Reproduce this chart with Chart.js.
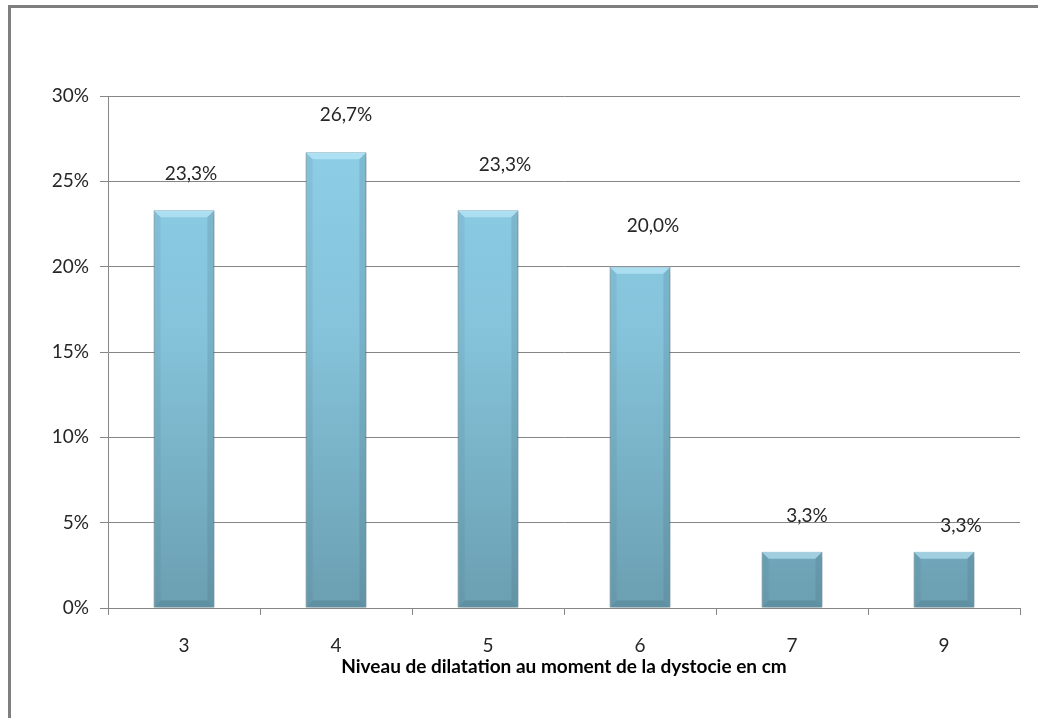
<!DOCTYPE html>
<html>
<head>
<meta charset="utf-8">
<script src="https://cdn.jsdelivr.net/npm/chart.js@4/dist/chart.umd.min.js"></script>
<style>
  html, body { margin: 0; padding: 0; background: #fff; }
  #wrap { position: relative; width: 1038px; height: 718px; overflow: hidden; }
  #frame { position: absolute; left: 8px; top: 5px; width: 1100px; height: 800px;
           border-top: 3px solid #7f7f7f; border-left: 3px solid #7f7f7f; }
  canvas { position: absolute; left: 0; top: 0; }
</style>
</head>
<body>
<div id="wrap">
  <div id="frame"></div>
  <canvas id="chart" width="1038" height="718"></canvas>
</div>
<script>
// catégories (dilatation en cm) et pourcentages
const categories = ['3', '4', '5', '6', '7', '9'];
const percentValues = [23.3, 26.7, 23.3, 20.0, 3.3, 3.3];
const valueLabels = ['23,3%', '26,7%', '23,3%', '20,0%', '3,3%', '3,3%'];
const axisTitle = 'Niveau de dilatation au moment de la dystocie en cm';

// décalages des étiquettes (comme dans Excel, pas tout à fait centrés)
const labelDx = [7, 10, 17, 13, 15, 17];
const labelDy = [36, 37, 45, 41, 36, 26];

const FONT = 'Lato, "Open Sans", sans-serif';

function barGradient(context) {
    const chart = context.chart;
    const { ctx, chartArea } = chart;
    if (!chartArea) return '#82c3da';
    const g = ctx.createLinearGradient(0, chartArea.top, 0, chartArea.bottom);
    g.addColorStop(0, '#8fd0e8');
    g.addColorStop(0.45, '#85c4db');
    g.addColorStop(1, '#6b9fb1');
    return g;
}

// ombre portée + biseau sur les barres
const bevelPlugin = {
    id: 'bevel',
    beforeDatasetsDraw(chart) {
        const ctx = chart.ctx;
        ctx.save();
        ctx.shadowColor = 'rgba(0,0,0,0.30)';
        ctx.shadowBlur = 5;
        ctx.shadowOffsetX = 1;
        ctx.shadowOffsetY = 3;
    },
    afterDatasetsDraw(chart) {
        const ctx = chart.ctx;
        ctx.restore();
        const meta = chart.getDatasetMeta(0);
        const b = 7;
        meta.data.forEach((bar) => {
            const left = bar.x - bar.width / 2;
            const right = bar.x + bar.width / 2;
            const top = bar.y;
            const bottom = bar.base;
            ctx.save();
            // haut clair
            ctx.fillStyle = 'rgba(200,240,255,0.55)';
            ctx.beginPath();
            ctx.moveTo(left, top); ctx.lineTo(right, top);
            ctx.lineTo(right - b, top + b); ctx.lineTo(left + b, top + b);
            ctx.closePath(); ctx.fill();
            // côtés
            ctx.fillStyle = 'rgba(60,100,115,0.18)';
            ctx.beginPath();
            ctx.moveTo(right, top); ctx.lineTo(right, bottom);
            ctx.lineTo(right - b, bottom - b); ctx.lineTo(right - b, top + b);
            ctx.closePath(); ctx.fill();
            ctx.fillStyle = 'rgba(60,100,115,0.10)';
            ctx.beginPath();
            ctx.moveTo(left, top); ctx.lineTo(left, bottom);
            ctx.lineTo(left + b, bottom - b); ctx.lineTo(left + b, top + b);
            ctx.closePath(); ctx.fill();
            // bas sombre
            ctx.fillStyle = 'rgba(50,90,105,0.22)';
            ctx.beginPath();
            ctx.moveTo(left, bottom); ctx.lineTo(right, bottom);
            ctx.lineTo(right - b, bottom - b); ctx.lineTo(left + b, bottom - b);
            ctx.closePath(); ctx.fill();
            ctx.restore();
        });
    }
};

const valueLabelPlugin = {
    id: 'valueLabels',
    afterDraw(chart) {
        const ctx = chart.ctx;
        const meta = chart.getDatasetMeta(0);
        ctx.save();
        ctx.font = '19px ' + FONT;
        ctx.fillStyle = '#262626';
        ctx.textAlign = 'center';
        ctx.textBaseline = 'middle';
        meta.data.forEach((bar, i) => {
            ctx.fillText(valueLabels[i], bar.x + labelDx[i], bar.y - labelDy[i]);
        });
        ctx.restore();
    }
};

new Chart(document.getElementById('chart'), {
    type: 'bar',
    data: {
        labels: categories,
        datasets: [{
            data: percentValues,
            backgroundColor: barGradient,
            borderColor: '#5f8d9c',
            borderWidth: 1,
            barPercentage: 0.40,
            categoryPercentage: 1.0
        }]
    },
    options: {
        responsive: false,
        animation: false,
        layout: { padding: { top: 96, right: 18, bottom: 0, left: 0 } },
        plugins: {
            legend: { display: false },
            tooltip: { enabled: false }
        },
        scales: {
            y: {
                min: 0,
                max: 30,
                afterFit: (scale) => { scale.width = 108; },
                ticks: {
                    stepSize: 5,
                    padding: 11,
                    color: '#262626',
                    font: { family: FONT, size: 19 },
                    callback: (v) => v + '%'
                },
                grid: { color: '#868686', lineWidth: 1, tickLength: 8 },
                border: { color: '#868686' }
            },
            x: {
                afterFit: (scale) => { scale.height = 110; },
                ticks: {
                    padding: 19,
                    color: '#262626',
                    font: { family: FONT, size: 19 }
                },
                grid: { drawOnChartArea: false, color: '#868686', tickLength: 7, offset: true },
                border: { color: '#868686' },
                title: {
                    display: true,
                    text: axisTitle,
                    color: '#000',
                    font: { family: FONT, size: 19, weight: 'bold' },
                    padding: { top: 0, bottom: 40 }
                }
            }
        }
    },
    plugins: [bevelPlugin, valueLabelPlugin]
});
</script>
</body>
</html>
